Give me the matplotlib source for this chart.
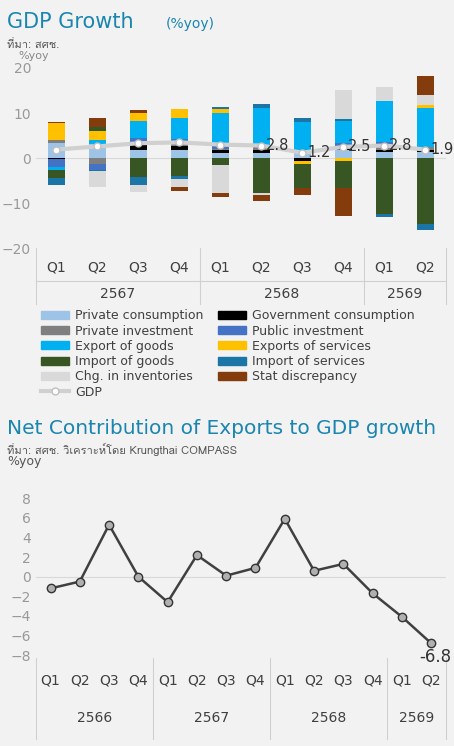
import matplotlib
matplotlib.use("Agg")
import matplotlib.pyplot as plt
import numpy as np
from matplotlib.transforms import blended_transform_factory as btf
from matplotlib.patches import Patch
from matplotlib.lines import Line2D
from matplotlib import font_manager as fm

thai_fams = []
for f in fm.fontManager.ttflist:
    if "thai" in f.name.lower() or f.name in ("Loma", "Garuda", "Kinnari", "Norasi", "Sawasdee", "Umpush", "Waree", "Laksaman"):
        if f.name not in thai_fams:
            thai_fams.append(f.name)
THAI = thai_fams + ["DejaVu Sans"]
plt.rcParams['font.family'] = ['DejaVu Sans']

quarters = ["Q1", "Q2", "Q3", "Q4", "Q1", "Q2", "Q3", "Q4", "Q1", "Q2"]
years = ["2567", "2568", "2569"]
series_names = ["Private consumption", "Government consumption", "Private investment",
                "Public investment", "Export of goods", "Exports of services",
                "Import of goods", "Import of services", "Chg. in inventories", "Stat discrepancy"]
private_consumption = [3.4, 3.1, 1.8, 1.9, 1.2, 1.2, 1.2, 1.8, 1.4, 1.3]
government_consumption = [-0.2, 0.0, 1.2, 0.8, 0.6, 0.5, -0.6, 0.3, 0.5, 0.5]
private_investment = [0.6, -1.2, 0.4, 1.0, 0.2, 0.9, 0.6, 0.6, 1.1, 0.7]
public_investment = [-1.8, -1.4, 1.0, 0.6, 0.9, 0.0, 0.0, 0.7, 0.5, 0.0]
export_goods = [-0.6, 0.9, 3.9, 4.5, 7.1, 8.5, 6.2, 4.8, 9.1, 8.7]
export_services = [3.7, 2.0, 1.8, 2.2, 0.9, 0.0, -0.8, -0.7, 0.0, 0.6]
import_goods = [-1.9, 1.0, -4.1, -4.0, -1.6, -7.8, -5.2, -5.9, -12.3, -14.5]
import_services = [-1.4, -0.2, -1.8, -0.6, 0.4, 0.9, 1.0, 0.4, -0.7, -1.5]
inventories = [-0.1, -3.6, -1.6, -1.7, -6.2, -0.3, 0.0, 6.6, 3.2, 2.1]
stat_discrepancy = [0.4, 1.9, 0.6, -0.9, -0.7, -1.3, -1.5, -6.2, 0.0, 4.4]
gdp = [1.9, 2.6, 3.3, 3.5, 3.0, 2.8, 1.2, 2.5, 2.8, 1.9]
gdp_labels_from = 5

nx_quarters = ["Q1", "Q2", "Q3", "Q4"] * 3 + ["Q1", "Q2"]
nx_years = ["2566", "2567", "2568", "2569"]
net_exports = [-1.2, -0.5, 5.3, 0.0, -2.6, 2.2, 0.1, 0.9, 5.9, 0.6, 1.3, -1.7, -4.1, -6.8]

colors = ["#9dc3e6", "#000000", "#7f7f7f", "#4472c4", "#00b0f0", "#ffc000",
          "#375623", "#1b75a6", "#d9d9d9", "#843c0c"]
teal = "#1a86b0"
bg = "#f2f2f2"

fig = plt.figure(figsize=(4.54, 7.46), dpi=100, facecolor=bg)

# ---------- Chart 1 ----------
ax = fig.add_axes([0.079, 0.667, 0.903, 0.242], facecolor=bg)
data = [private_consumption, government_consumption, private_investment, public_investment,
        export_goods, export_services, import_goods, import_services, inventories, stat_discrepancy]
x = np.arange(len(quarters))
pos = np.zeros(len(x)); neg = np.zeros(len(x))
for vals, c in zip(data, colors):
    v = np.array(vals, float)
    b = np.where(v >= 0, pos, neg)
    ax.bar(x, v, 0.4, bottom=b, color=c, zorder=2)
    pos += np.where(v >= 0, v, 0); neg += np.where(v < 0, v, 0)
ax.plot(x, gdp, color="#d0d0d0", lw=3, marker="o", ms=5, mfc="white", mec="#c0c0c0", zorder=3)
for i in range(gdp_labels_from, len(x)):
    ax.text(x[i] + 0.12, gdp[i], f"{gdp[i]:.1f}", va="center", ha="left", fontsize=10.5, color="#333333", zorder=4)
ax.axhline(0, color="#d9d9d9", lw=0.8, zorder=1)
ax.set_xlim(-0.5, 9.5); ax.set_ylim(-20, 20)
ax.set_yticks([-20, -10, 0, 10, 20])
ax.tick_params(axis="y", colors="#999999", labelsize=10, length=0)
ax.set_xticks([])
for s in ax.spines.values(): s.set_visible(False)
tr = btf(ax.transData, ax.transAxes)
for i, q in enumerate(quarters):
    ax.text(i, -0.105, q, transform=tr, ha="center", va="center", fontsize=10, color="#404040")
for xb in [-0.5, 3.5, 7.5, 9.5]:
    ax.add_line(Line2D([xb, xb], [0, -0.31], transform=tr, color="#d0d0d0", lw=0.8, clip_on=False))
ax.add_line(Line2D([-0.5, 9.5], [-0.18, -0.18], transform=tr, color="#d0d0d0", lw=0.8, clip_on=False))
for yl, xc in zip(years, [1.5, 5.5, 8.5]):
    ax.text(xc, -0.25, yl, transform=tr, ha="center", va="center", fontsize=10, color="#404040")

fig.text(0.015, 0.970, "GDP Growth", fontsize=15, color=teal, va="center")
fig.text(0.365, 0.968, "(%yoy)", fontsize=10, color=teal, va="center")
fig.text(0.015, 0.940, "ที่มา: สศช.", fontsize=8, color="#555555", va="center", family=THAI)
fig.text(0.04, 0.925, "%yoy", fontsize=8, color="#888888", va="center")

h = [Patch(color=c) for c in colors]
gl = Line2D([], [], color="#d0d0d0", lw=3, marker="o", ms=5, mfc="white", mec="#c0c0c0")
order = [0, 2, 4, 6, 8]
handles = [h[i] for i in order] + [gl] + [h[i] for i in [1, 3, 5, 7, 9]]
labels = [series_names[i] for i in order] + ["GDP"] + [series_names[i] for i in [1, 3, 5, 7, 9]]
fig.legend(handles, labels, ncol=2, loc="upper left", bbox_to_anchor=(0.08, 0.592), frameon=False,
           fontsize=9, handlelength=2.2, handleheight=0.6, labelspacing=0.18, columnspacing=1.2,
           borderaxespad=0, handletextpad=0.5, labelcolor="#404040")

# ---------- Chart 2 ----------
ax2 = fig.add_axes([0.079, 0.118, 0.903, 0.218], facecolor=bg)
x2 = np.arange(len(net_exports))
ax2.plot(x2, net_exports, color="#404040", lw=1.8, marker="o", ms=6, mfc="#b0b0b0", mec="#333333", zorder=3)
ax2.text(x2[-1] + 0.15, net_exports[-1] - 0.5, f"{net_exports[-1]:.1f}", ha="center", va="top", fontsize=12, color="#333333")
ax2.axhline(0, color="#d9d9d9", lw=0.8, zorder=1)
ax2.set_xlim(-0.5, 13.5); ax2.set_ylim(-8.3, 8.3)
ax2.set_yticks(range(-8, 9, 2))
ax2.tick_params(axis="y", colors="#999999", labelsize=10, length=0)
ax2.set_xticks([])
for s in ax2.spines.values(): s.set_visible(False)
tr2 = btf(ax2.transData, ax2.transAxes)
for i, q in enumerate(nx_quarters):
    ax2.text(i, -0.14, q, transform=tr2, ha="center", va="center", fontsize=10, color="#404040")
for xb in [-0.5, 3.5, 7.5, 11.5, 13.5]:
    ax2.add_line(Line2D([xb, xb], [0, -0.5], transform=tr2, color="#d0d0d0", lw=0.8, clip_on=False))
for yl, xc in zip(nx_years, [1.5, 5.5, 9.5, 12.5]):
    ax2.text(xc, -0.37, yl, transform=tr2, ha="center", va="center", fontsize=10, color="#404040")

fig.text(0.015, 0.425, "Net Contribution of Exports to GDP growth", fontsize=14.5, color=teal, va="center")
fig.text(0.015, 0.398, "ที่มา: สศช. วิเคราะห์โดย Krungthai COMPASS", fontsize=8, color="#555555", va="center",
         family=THAI)
fig.text(0.015, 0.381, "%yoy", fontsize=9, color="#555555", va="center")

fig.savefig("out.png", dpi=100, facecolor=bg)
